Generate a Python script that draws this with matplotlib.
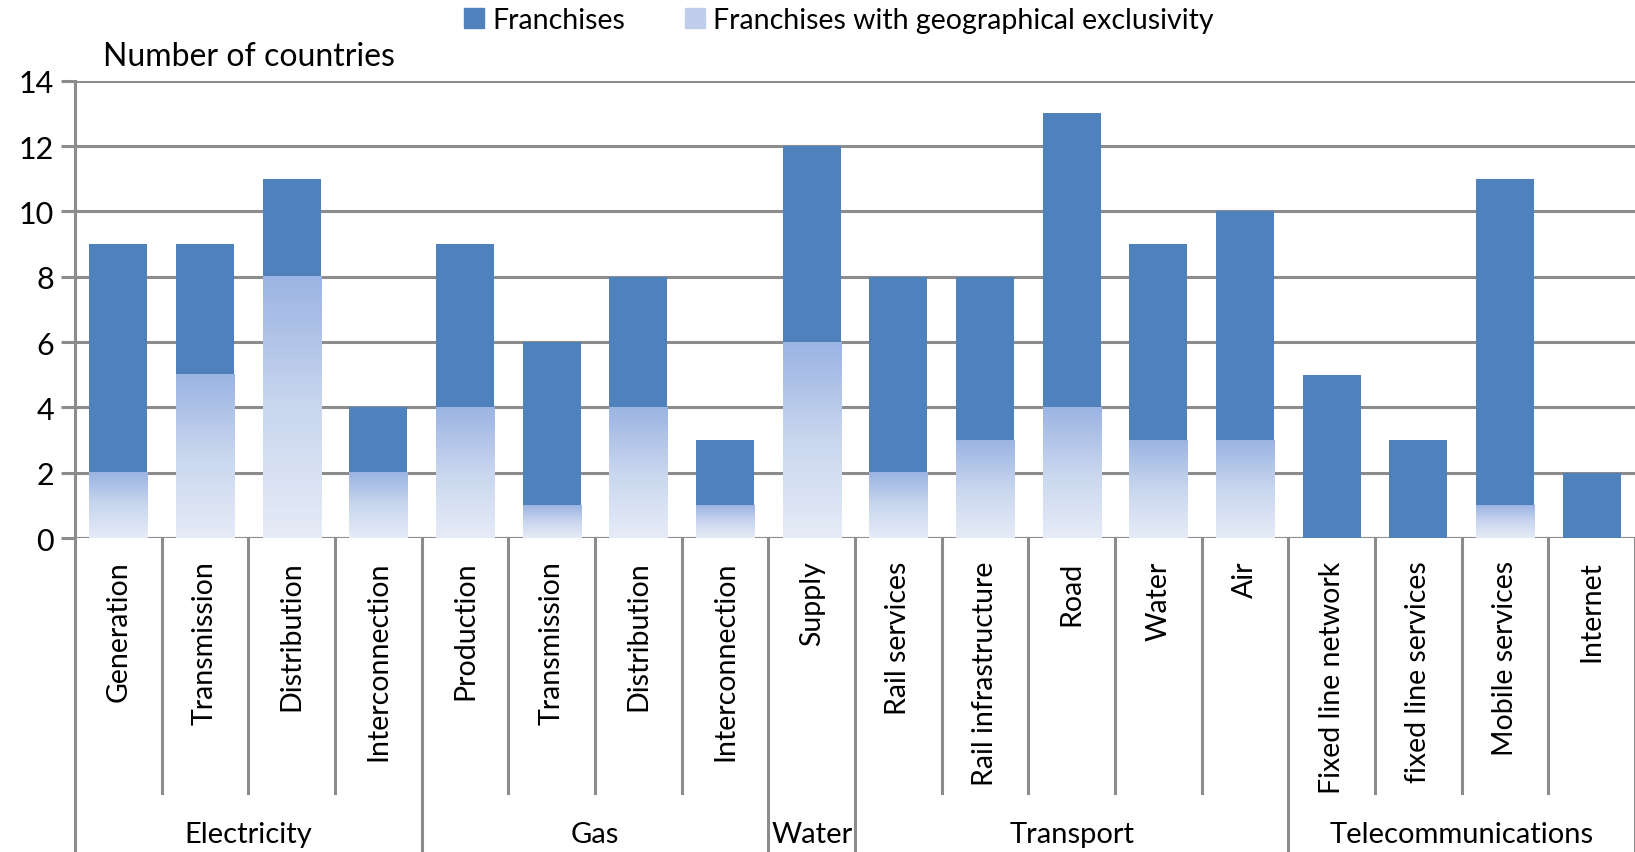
import numpy as np
import matplotlib
matplotlib.use("Agg")
import matplotlib.pyplot as plt
from matplotlib.colors import LinearSegmentedColormap
from matplotlib.patches import Patch
from matplotlib.transforms import blended_transform_factory

plt.rcParams['font.family'] = ['Lato', 'DejaVu Sans']

# Data
categories = ["Generation", "Transmission", "Distribution", "Interconnection",
              "Production", "Transmission", "Distribution", "Interconnection",
              "Supply",
              "Rail services", "Rail infrastructure", "Road", "Water", "Air",
              "Fixed line network", "fixed line services", "Mobile services", "Internet"]
franchises = [9, 9, 11, 4, 9, 6, 8, 3, 12, 8, 8, 13, 9, 10, 5, 3, 11, 2]
exclusive = [2, 5, 8, 2, 4, 1, 4, 1, 6, 2, 3, 4, 3, 3, 0, 0, 1, 0]
groups = ["Electricity", "Gas", "Water", "Transport", "Telecommunications"]
group_sizes = [4, 4, 1, 5, 4]

dark = "#4F81BD"
grid_col = "#8C8C8C"
grad = LinearSegmentedColormap.from_list("g", ["#E6ECF7", "#C9D6EE", "#9BB4E3"])

fig = plt.figure(figsize=(16.35, 8.53), dpi=100)
ax = fig.add_axes([0.0459, 0.368, 0.9541, 0.5361])

n = len(categories)
x = np.arange(n) + 0.5
w = 0.67
ax.bar(x, franchises, width=w, color=dark, zorder=2)

col = np.linspace(0, 1, 256).reshape(-1, 1)
for xi, h in zip(x, exclusive):
    if h > 0:
        ax.imshow(col, extent=[xi - w / 2, xi + w / 2, 0, h], origin="lower",
                  aspect="auto", cmap=grad, zorder=3, interpolation="bilinear")

ax.set_xlim(0, n)
ax.set_ylim(0, 14)
ax.set_yticks(range(0, 15, 2))
ax.yaxis.grid(True, color=grid_col, linewidth=2.2)
ax.set_axisbelow(True)
for s in ["top", "right", "bottom", "left"]:
    ax.spines[s].set_visible(False)
ax.set_xticks([])
ax.tick_params(axis="y", length=10, width=2.2, color=grid_col, labelsize=22, pad=5)

# axis lines and the two-level category axis
tr = blended_transform_factory(ax.transData, fig.transFigure)
ax.plot([0, 0], [0, 14], color=grid_col, lw=2.2, clip_on=False, zorder=1)
ax.axhline(0, color=grid_col, lw=2.2, zorder=1)
y_axis = 0.368
bounds = np.cumsum([0] + group_sizes)
for i in range(n + 1):
    if i in bounds:
        ax.plot([i, i], [y_axis, 0.0], color=grid_col, lw=2.2, transform=tr, clip_on=False)
    elif i < n:
        ax.plot([i, i], [y_axis, 0.069], color=grid_col, lw=2.2, transform=tr, clip_on=False)

for xi, lab in zip(x, categories):
    ax.text(xi, 0.342, lab, rotation=90, ha="center", va="top", fontsize=20.5,
            transform=tr)
for g, a, b in zip(groups, bounds[:-1], bounds[1:]):
    ax.text((a + b) / 2, 0.021, g, ha="center", va="center", fontsize=21, transform=tr)

fig.text(0.063, 0.933, "Number of countries", fontsize=23, va="center")

handles = [Patch(color=dark), Patch(color="#BFCDEB")]
fig.legend(handles, ["Franchises", "Franchises with geographical exclusivity"],
           loc="center", bbox_to_anchor=(0.513, 0.975), ncol=2, frameon=False,
           fontsize=20.5, handlelength=0.7, handleheight=0.7, handletextpad=0.3,
           columnspacing=2.1)

fig.savefig("out.png", dpi=100)
